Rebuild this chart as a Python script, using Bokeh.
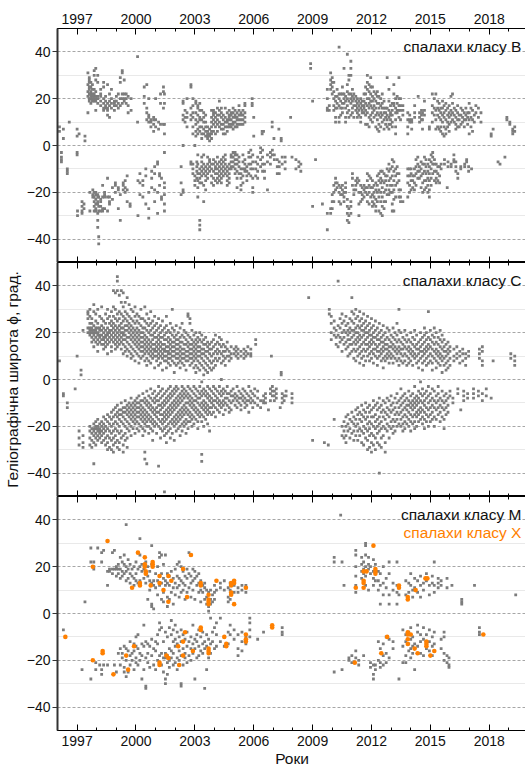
from bokeh.plotting import figure
from bokeh.layouts import column
from bokeh.models import Range1d, FixedTicker, LinearAxis, Label
from bokeh.embed import file_html
from bokeh.resources import INLINE

FONT = "Liberation Sans"
GRAY = "#7c7c7c"
ORANGE = "#ff8000"

YEAR_TICKS = [1997, 2000, 2003, 2006, 2009, 2012, 2015, 2018]
YEAR_MINOR = list(range(1996, 2020))
LAT_TICKS = [-40, -20, 0, 20, 40]
LAT_MINOR = [-30, -10, 10, 30]

LABEL_B = "спалахи класу B"
LABEL_C = "спалахи класу C"
LABEL_M = "спалахи класу M"
LABEL_X = "спалахи класу X"
Y_TITLE = "Геліографічна широта ϕ, град."
X_TITLE = "Роки"

# ---- class B flares: (year, [latitudes]) ----
B_NORTH = [
    (1996.1, [8, 6]), (1996.3, [7, 3]), (1996.6, [10]), (1997.0, [7, 4]), (1997.1, [5]), (1997.4, [4, 2]),
    (1997.55, [31, 26, 23, 21, 14]), (1997.62, [29, 28, 27, 25, 24, 22, 20, 19]),
    (1997.7, [27, 25, 23, 22, 21, 20, 18]), (1997.78, [26, 24, 22, 21, 20, 19]),
    (1997.87, [32, 30, 24, 22, 21, 20, 19]), (1997.95, [33, 28, 23, 21, 20, 19, 15]),
    (1998.05, [30, 27, 21, 20, 18]), (1998.2, [24, 22, 21, 19, 17]), (1998.35, [27, 25, 20, 18, 16, 15]),
    (1998.45, [21, 19, 17, 16]), (1998.55, [26, 18, 16, 15, 13]), (1998.65, [22, 19, 17, 12]),
    (1998.75, [24, 20, 18, 16]), (1998.9, [19, 18, 17, 15]), (1999.0, [21, 19, 17]), (1999.1, [22, 18, 16]),
    (1999.2, [29, 27, 20, 17]), (1999.3, [31, 32, 22, 20, 18]), (1999.4, [28, 22, 20, 19]),
    (1999.5, [22, 20, 18]), (1999.6, [21, 17, 14]), (1999.75, [20, 15]), (2000.08, [38, 10]),
    (2000.42, [25, 21, 18]), (2000.55, [26, 16, 14, 11]), (2000.65, [20, 13, 12, 10]),
    (2000.76, [11, 10, 8]), (2000.9, [12, 11, 9, 6]), (2001.0, [20, 11, 8]), (2001.15, [10, 7]),
    (2001.25, [22, 18, 9]), (2001.4, [25, 23, 16, 9]), (2001.45, [22, 18, 9, 5]),
    (2002.4, [18, 19, 13, 11]), (2002.5, [15, 12, 10]), (2002.6, [20, 14, 12, 8]),
    (2002.8, [26, 25, 16, 13, 11]), (2002.9, [20, 17, 14, 12, 8, 5]), (2003.05, [19, 18, 14, 11, 9, 6, 4]),
    (2003.15, [17, 16, 13, 10, 7, 5]), (2003.25, [18, 15, 12, 11, 8, 6]), (2003.35, [15, 11, 8, 5, 3]),
    (2003.45, [14, 12, 10, 7, 5]), (2003.55, [13, 10, 8, 6, 4]), (2003.65, [8, 6, 5, 4, 3]),
    (2003.75, [7, 5, 4, 2]), (2003.85, [15, 12, 10, 8, 6, 5, 3]), (2003.95, [15, 14, 13, 11, 9, 6]),
    (2004.05, [14, 12, 10, 8, 5]), (2004.15, [16, 13, 11, 9, 6]), (2004.25, [19, 15, 13, 10, 8]),
    (2004.35, [16, 14, 12, 9, 7]), (2004.45, [13, 11, 9, 7, 5]), (2004.55, [16, 12, 10, 8, 5]),
    (2004.65, [14, 11, 10, 8, 6]), (2004.75, [15, 13, 12, 11, 9, 8]), (2004.85, [14, 13, 11, 9, 8]),
    (2004.95, [16, 14, 12, 10, 9, 7]), (2005.05, [15, 13, 12, 10, 8]), (2005.15, [14, 12, 11, 9, 8]),
    (2005.25, [17, 15, 13, 11, 9]), (2005.35, [14, 13, 11, 9]), (2005.45, [15, 13, 11, 9]),
    (2005.55, [18, 17, 14, 12, 10]), (2005.92, [20, 18, 17]), (2006.0, [12, 4]), (2006.43, [6, 5]),
    (2006.5, [6]), (2006.94, [10, 8]), (2007.03, [3]), (2007.28, [7]), (2007.4, [3, 2]), (2007.88, [12]),
    (2008.9, [35, 33]), (2009.0, [19]),
    (2009.75, [24, 20, 16, 15]), (2009.85, [17, 15]), (2009.92, [31, 28, 26, 24]), (2010.0, [29, 27, 25, 22]),
    (2010.08, [27, 23, 20, 17, 15]), (2010.17, [21, 19, 16, 12, 10]), (2010.25, [24, 21, 18, 16]),
    (2010.35, [42, 22, 20, 17, 12, 10]), (2010.43, [22, 19, 16, 13]), (2010.52, [25, 22, 18, 16, 14]),
    (2010.6, [33, 22, 20, 18]), (2010.68, [21, 19, 16, 12, 10]), (2010.77, [39, 26, 23, 20, 17, 14]),
    (2010.85, [30, 28, 22, 19, 15, 12]), (2010.95, [36, 33, 30, 22, 20, 18, 13]),
    (2011.03, [24, 21, 19, 16, 14]), (2011.1, [22, 20, 17, 12]), (2011.2, [21, 19, 17, 15]),
    (2011.28, [20, 18, 16, 14, 12]), (2011.36, [19, 17, 15, 13]), (2011.45, [20, 18, 16, 12, 10]),
    (2011.53, [19, 17, 15, 14]), (2011.62, [22, 19, 17, 16, 14]), (2011.7, [25, 22, 18, 15, 13, 9]),
    (2011.79, [30, 27, 24, 20, 17, 14, 9]), (2011.88, [26, 23, 20, 18, 16, 12, 8]),
    (2011.96, [29, 25, 22, 19, 17, 13, 11]), (2012.05, [25, 21, 19, 16, 14, 10]),
    (2012.13, [23, 20, 17, 15, 12]), (2012.22, [22, 19, 16, 13, 8]), (2012.3, [23, 21, 18, 14, 11, 7]),
    (2012.38, [21, 18, 16, 13, 9, 6]), (2012.47, [20, 17, 14, 12, 8]), (2012.55, [22, 18, 16, 13, 10]),
    (2012.64, [19, 16, 14, 11, 7]), (2012.72, [16, 14, 12, 9]), (2012.8, [29, 16, 13, 11, 8]),
    (2012.89, [24, 19, 15, 12, 9, 7]), (2012.97, [17, 14, 13, 11, 9]), (2013.06, [18, 15, 13, 10, 8]),
    (2013.14, [26, 22, 18, 17]), (2013.23, [20, 16, 14, 11, 8, 5]), (2013.31, [21, 18, 15, 14]),
    (2013.4, [29, 20, 17, 15, 12]), (2013.48, [20, 17, 15, 11]), (2013.6, [17, 15, 13]),
    (2013.85, [14, 11, 8, 5]), (2013.95, [13, 11, 10]), (2014.05, [11, 10, 7]), (2014.2, [17, 14, 12]),
    (2014.38, [21]), (2014.45, [14, 12, 10]), (2014.55, [15, 13, 11]), (2014.6, [14, 11, 7]),
    (2014.7, [19, 15, 13]), (2014.95, [8, 7]), (2015.1, [22, 17, 14, 10]), (2015.2, [20, 16, 13]),
    (2015.28, [22, 15, 11, 7]), (2015.37, [19, 16, 13, 8]), (2015.45, [18, 15, 12, 7]),
    (2015.53, [16, 14, 11, 8, 6]), (2015.62, [19, 16, 13, 10, 5]), (2015.7, [17, 14, 12, 8, 4]),
    (2015.79, [18, 15, 11, 7, 5]), (2015.88, [16, 13, 10, 8]), (2015.96, [17, 14, 12, 9, 6]),
    (2016.05, [21, 15, 13, 10]), (2016.13, [22, 18, 14, 11]), (2016.22, [16, 13, 10]),
    (2016.3, [15, 12, 9, 7]), (2016.39, [17, 14, 11, 8]), (2016.47, [13, 11, 8]), (2016.56, [16, 13, 9]),
    (2016.64, [15, 12, 10]), (2016.73, [14, 11, 8]), (2016.81, [16, 13, 11]), (2016.9, [14, 12, 9]),
    (2016.98, [18, 14, 11, 5]), (2017.07, [16, 12, 8]), (2017.15, [15, 11, 6]), (2017.24, [13, 10]),
    (2017.32, [17, 14]), (2017.45, [16, 12]), (2017.58, [14, 10]), (2018.1, [5, 4]), (2018.2, [7]),
    (2018.9, [12, 11]), (2019.05, [10, 9]), (2019.2, [7, 6, 5]), (2019.3, [8, 6]),
]
B_SOUTH = [
    (1996.2, [-3, -5, -6, -7]), (1996.5, [-10, -11, -12]), (1997.0, [-3, -4]), (1997.02, [-28, -30]),
    (1997.25, [-24, -26, -28, -29]), (1997.35, [-25, -27]), (1997.65, [-28, -20]), (1997.8, [-19, -21, -22]),
    (1997.87, [-20, -22, -24, -26, -28]), (1997.95, [-20, -21, -23, -25, -27, -28]),
    (1998.05, [-21, -22, -24, -25, -29, -32, -35]), (1998.1, [-22, -26, -28, -39, -42]),
    (1998.2, [-23, -24, -26, -28]), (1998.3, [-17, -22, -27, -28]), (1998.4, [-20, -21, -22, -27]),
    (1998.55, [-14, -22, -28]), (1998.65, [-22, -24, -25]), (1998.8, [-18, -23]), (1998.95, [-16, -17, -20]),
    (1999.1, [-18, -19, -27]), (1999.2, [-21, -32]), (1999.35, [-17, -19, -16]), (1999.45, [-15, -18, -20]),
    (1999.55, [-13, -19, -24]), (1999.7, [-26, -25]), (2000.1, [-15, -30]), (2000.2, [-12, -21, -16]),
    (2000.35, [-15, -17, -22]), (2000.5, [-10, -13, -25]), (2000.65, [-20, -31, -27]), (2000.8, [-11, -14, -18]),
    (2000.95, [-9, -12, -19, -24]), (2001.1, [-7, -8, -20, -29]), (2001.2, [-12, -13, -17]),
    (2001.3, [-14, -22, -23]), (2001.45, [-3, -16, -18, -21, -25, -28]),
    (2002.3, [-9, -16, -21]), (2002.4, [-19, -20, 0]), (2002.8, [-7, -8]), (2002.9, [-8, -10, -12]),
    (2003.0, [0, -13, -15, -17]), (2003.1, [-7, -9, -11, -14]), (2003.15, [-4, -8, -12, -15, -18, -22]),
    (2003.25, [-10, -12, -14, -16, -32, -34, -36]), (2003.35, [-5, -7, -9, -11, -13, -16]),
    (2003.45, [-4, -8, -10, -12, -17, -24]), (2003.55, [-9, -11, -13, -15, -19]),
    (2003.65, [-5, -8, -10, -12, -14]), (2003.75, [-6, -7, -9, -11]), (2003.85, [-8, -10, -13, -16]),
    (2003.95, [-6, -8, -11, -14, -17]), (2004.05, [-7, -9, -10, -12, -15]),
    (2004.15, [-5, -8, -10, -12, -14, -16]), (2004.25, [-7, -9, -11, -13, -15]),
    (2004.35, [-6, -8, -10, -12, -14, -16]), (2004.45, [-5, -7, -9, -11, -13]),
    (2004.55, [-4, -6, -8, -10, -12]), (2004.65, [-9, -11, -13, -15, -17]),
    (2004.75, [-8, -10, -12, -14, -16]), (2004.85, [-4, -5, -7, -9, -10]), (2004.95, [-3, -5, -7, -9]),
    (2005.05, [-3, -4, -6, -8, -10, -12]), (2005.15, [-4, -6, -8, -11, -14, -18]),
    (2005.25, [-5, -7, -9, -12]), (2005.35, [-10, -12, -14, -17, -19]), (2005.45, [-4, -7, -10, -13, -16]),
    (2005.55, [-6, -8, -10, -11]), (2005.65, [-9, -11, -13, -15]), (2005.75, [-3, -5, -8, -12]),
    (2005.85, [-2, -5, -8, -10, -13]), (2005.95, [-4, -7, -10, -14, -18, -20]), (2006.1, [-7, -10, -13]),
    (2006.2, [-5, -8, -11, -14]), (2006.35, [-1, -3, -6, -9]), (2006.45, [-2, -5, -8, -11]),
    (2006.55, [-8, -11, -14]), (2006.7, [-19, -4, -7]), (2006.85, [-3, -5, -8]), (2006.95, [-2, -4]),
    (2007.05, [-4, -6]), (2007.2, [-6, -9, -12]), (2007.3, [-7, -9, -12]), (2007.45, [-5, -8]),
    (2007.6, [-5, -7, -10]), (2007.95, [-5]), (2008.15, [-6, -10]), (2008.3, [-7, -9]), (2008.4, [-8, -11]),
    (2009.0, [-26]), (2009.15, [-6]),
    (2009.5, [-25]), (2009.75, [-29, -36]), (2009.92, [-27, -29]), (2010.0, [-21, -24, -27]),
    (2010.08, [-17, -20, -24]), (2010.17, [-14, -16, -19]), (2010.25, [-16, -18]), (2010.35, [-17, -20, -24]),
    (2010.43, [-18, -21, -25]), (2010.52, [-17, -19, -21]), (2010.6, [-20, -22, -24]), (2010.68, [-16, -18, -20]),
    (2010.77, [-23, -26, -29, -32]), (2010.85, [-27, -30, -33]), (2010.95, [-24, -26, -29]),
    (2011.03, [-12, -14, -17]), (2011.1, [-19, -21]), (2011.2, [-15, -17, -19]), (2011.28, [-14, -16]),
    (2011.36, [-15, -20, -25, -30]), (2011.45, [-17, -20, -24]), (2011.53, [-18, -21, -23]),
    (2011.62, [-17, -19, -22]), (2011.7, [-18, -20]), (2011.79, [-12, -15, -18, -21, -24]),
    (2011.88, [-13, -17, -20, -25]), (2011.96, [-14, -18, -22]), (2012.05, [-15, -18, -21, -24, -26]),
    (2012.13, [-17, -20, -22, -25]), (2012.22, [-16, -19, -23, -26, -28]), (2012.3, [-13, -17, -20, -24]),
    (2012.38, [-12, -15, -19, -22, -28]), (2012.47, [-11, -14, -16, -20, -24, -29]),
    (2012.55, [-11, -15, -18, -22, -26, -30]), (2012.64, [-12, -16, -20, -24, -27]),
    (2012.72, [-13, -15, -19, -24]), (2012.8, [-10, -13, -17, -21]), (2012.89, [-8, -11, -15, -19, -21]),
    (2012.97, [-10, -14, -17, -20]), (2013.06, [-6, -9, -13, -17, -20, -25, -28]),
    (2013.14, [-7, -11, -15, -19, -23, -28]), (2013.23, [-10, -13, -17, -22]), (2013.31, [-9, -12, -16]),
    (2013.4, [-12, -15, -19, -22]), (2013.48, [-19, -22, -24]), (2013.6, [-24]),
    (2013.85, [-10, -13, -16, -22]), (2013.94, [-10, -13, -17, -20]), (2014.02, [-10, -12, -15, -19]),
    (2014.1, [-13, -15, -18]), (2014.19, [-10, -13, -16, -19]), (2014.27, [-6, -9, -12, -17]),
    (2014.36, [-5, -8, -11, -14]), (2014.44, [-9, -11, -14]), (2014.53, [-7, -10, -13, -18]),
    (2014.61, [-8, -12, -16, -20]), (2014.7, [-5, -8, -11, -15, -19]), (2014.78, [-6, -9, -12, -15, -18]),
    (2014.87, [-8, -11, -14, -17, -20]), (2014.95, [-6, -9, -12, -15, -19, -22]),
    (2015.04, [-4, -7, -10, -14, -17]), (2015.12, [-3, -5, -8, -12]), (2015.21, [-6, -8, -11, -15]),
    (2015.3, [-8, -11, -14, -16]), (2015.38, [-9, -12, -15]), (2015.47, [-9, -13, -16]), (2015.55, [-8, -10]),
    (2015.72, [-6, -8]), (2015.86, [-18]), (2015.9, [-7, -9]), (2016.06, [-8, -9]), (2016.2, [-4, -6, -7]),
    (2016.3, [-7, -9, -11]), (2016.4, [-12, -14]), (2016.55, [-9, -10]), (2016.75, [-8, -9]),
    (2016.85, [-6, -7]), (2016.95, [-9, -11]), (2017.1, [-10]), (2018.45, [-7]), (2018.55, [-8]), (2018.8, [-5]),
]

# ---- class C flares ----
C_NORTH = [
    (1996.1, [8]), (1997.0, [10]), (1997.2, [4, 2]), (1997.3, [21]),
    (1997.55, [29, 28, 26, 22, 20]), (1997.65, [30, 27, 24, 22, 21, 20, 19]),
    (1997.75, [26, 24, 22, 21, 20, 18, 16]), (1997.85, [32, 29, 23, 21, 20, 19, 17, 14]),
    (1997.95, [28, 25, 22, 21, 20, 18, 16]), (1998.05, [30, 24, 22, 20, 19, 17, 15, 12]),
    (1998.15, [27, 22, 21, 19, 18, 16]), (1998.25, [31, 26, 23, 21, 19, 17, 15]),
    (1998.35, [25, 22, 20, 18, 17, 15, 13]), (1998.45, [28, 24, 21, 19, 18, 16, 14]),
    (1998.55, [30, 26, 22, 20, 19, 17, 15, 11]), (1998.65, [27, 24, 21, 20, 18, 16]),
    (1998.75, [29, 25, 23, 21, 19, 17, 14, 12]), (1998.85, [38, 31, 27, 24, 22, 20, 18, 16]),
    (1998.95, [37, 30, 26, 23, 21, 19, 17, 15, 13]), (1999.05, [44, 42, 38, 28, 25, 22, 20, 18, 16, 14]),
    (1999.15, [36, 29, 26, 23, 21, 19, 17, 15]), (1999.25, [38, 33, 28, 24, 22, 20, 18, 16, 13]),
    (1999.35, [37, 31, 27, 25, 22, 20, 19, 17, 15, 11]), (1999.45, [33, 29, 26, 23, 21, 19, 17, 14, 12]),
    (1999.55, [35, 28, 25, 23, 21, 18, 16, 13, 10]), (1999.65, [32, 27, 24, 22, 20, 18, 15, 12]),
    (1999.75, [30, 26, 23, 21, 19, 17, 14, 11, 9]), (1999.85, [29, 25, 22, 20, 18, 16, 13, 10]),
    (1999.95, [31, 27, 24, 21, 19, 17, 15, 12, 8]), (2000.05, [28, 25, 22, 20, 18, 16, 14, 11]),
    (2000.15, [27, 24, 21, 19, 17, 15, 13, 10, 7]), (2000.25, [30, 26, 23, 20, 18, 16, 14, 12, 9]),
    (2000.35, [26, 22, 20, 18, 16, 14, 12, 10]), (2000.45, [31, 25, 22, 19, 17, 15, 13, 11, 8]),
    (2000.55, [28, 24, 21, 18, 16, 14, 12, 9, 6]), (2000.65, [26, 23, 20, 17, 15, 13, 11, 8]),
    (2000.75, [29, 24, 21, 19, 16, 14, 12, 10, 7]), (2000.85, [25, 22, 19, 17, 15, 13, 11, 9]),
    (2000.95, [27, 23, 20, 18, 15, 13, 12, 10, 5]), (2001.05, [24, 21, 18, 16, 14, 12, 10, 8]),
    (2001.15, [26, 22, 19, 17, 15, 13, 11, 9, 6]), (2001.25, [23, 20, 18, 16, 14, 12, 10, 7]),
    (2001.35, [25, 21, 18, 15, 13, 11, 9, 4]), (2001.45, [22, 19, 17, 15, 13, 12, 10, 8]),
    (2001.55, [27, 23, 20, 17, 14, 12, 10, 8, 5]), (2001.65, [21, 18, 16, 14, 12, 11, 9, 7]),
    (2001.75, [24, 20, 17, 15, 13, 11, 9, 6]), (2001.85, [30, 22, 19, 16, 14, 12, 10, 8]),
    (2001.95, [21, 18, 16, 14, 12, 10, 7, 3]), (2002.05, [23, 19, 17, 15, 13, 11, 9, 6]),
    (2002.15, [20, 17, 15, 13, 11, 9, 7]), (2002.25, [22, 18, 16, 14, 12, 10, 8, 5]),
    (2002.35, [24, 19, 16, 13, 11, 9, 7]), (2002.45, [21, 18, 15, 13, 11, 9, 6]),
    (2002.55, [20, 17, 15, 12, 10, 8, 4]), (2002.65, [28, 27, 19, 16, 14, 12, 10, 8]),
    (2002.75, [26, 24, 18, 15, 13, 11, 9, 6]), (2002.85, [21, 17, 15, 13, 11, 9, 7]),
    (2002.95, [19, 16, 14, 12, 10, 8, 5]), (2003.05, [20, 17, 15, 13, 11, 9, 6, 3]),
    (2003.15, [18, 16, 14, 12, 10, 8, 5]), (2003.25, [20, 17, 14, 12, 10, 7, 4]),
    (2003.35, [19, 16, 13, 11, 9, 6]), (2003.45, [17, 15, 13, 11, 8, 5, 2]), (2003.55, [18, 15, 12, 10, 7, 4]),
    (2003.65, [16, 14, 12, 9, 6, 3]), (2003.75, [15, 13, 11, 8, 5]), (2003.85, [16, 13, 10, 7, 4]),
    (2003.95, [17, 14, 11, 8, 5]), (2004.05, [19, 15, 12, 9, 6]), (2004.15, [16, 13, 11, 8]),
    (2004.25, [18, 15, 12, 9]), (2004.35, [17, 14, 11, 7]), (2004.45, [15, 12, 10, 8]), (2004.55, [14, 12, 9, 6]),
    (2004.65, [16, 13, 10]), (2004.75, [12, 10, 8]), (2004.85, [14, 11, 9]), (2005.0, [13, 11]),
    (2005.1, [14, 12, 10]), (2005.2, [13, 11, 9]), (2005.35, [12, 10]), (2005.5, [13, 11, 9]),
    (2005.6, [12, 10]), (2005.7, [14, 11]), (2005.85, [13, 11, 10]), (2006.1, [15, 17]), (2006.9, [10]),
    (2007.4, [2, 3]), (2008.8, [35]),
    (2009.85, [30, 28]), (2009.95, [27, 24, 20, 17]), (2010.1, [25, 22, 19]), (2010.2, [21, 18, 15]),
    (2010.3, [42, 23, 19, 14]), (2010.4, [26, 22, 18, 16]), (2010.5, [28, 24, 20, 17, 12]),
    (2010.6, [25, 21, 18, 15]), (2010.7, [27, 23, 20, 16, 13]), (2010.8, [24, 21, 19, 17, 14, 10]),
    (2010.9, [26, 22, 20, 17, 15, 11]), (2011.0, [35, 29, 25, 21, 18, 15, 12]),
    (2011.1, [28, 24, 21, 19, 16, 13, 9]), (2011.2, [30, 26, 22, 20, 17, 15, 12, 8]),
    (2011.3, [27, 23, 20, 18, 16, 13, 10]), (2011.4, [29, 25, 22, 19, 17, 14, 11, 7]),
    (2011.5, [26, 23, 21, 18, 15, 12, 9]), (2011.6, [28, 24, 21, 19, 16, 13, 10, 6]),
    (2011.7, [25, 22, 20, 17, 15, 12, 8]), (2011.8, [27, 23, 20, 18, 15, 13, 10]),
    (2011.9, [24, 21, 19, 16, 14, 11, 8]), (2012.0, [26, 22, 19, 17, 15, 12, 9]),
    (2012.1, [23, 20, 18, 16, 13, 11, 7]), (2012.2, [25, 21, 18, 15, 13, 10]),
    (2012.3, [22, 19, 17, 14, 12, 9, 6]), (2012.4, [24, 20, 17, 15, 12, 10]), (2012.5, [21, 18, 16, 13, 11, 8]),
    (2012.6, [23, 19, 16, 14, 12, 9, 5]), (2012.7, [20, 17, 15, 13, 10, 8]), (2012.8, [22, 18, 15, 13, 11, 9]),
    (2012.9, [21, 17, 14, 12, 10, 7]), (2013.0, [19, 16, 14, 11, 9]), (2013.1, [22, 18, 15, 13, 10, 7]),
    (2013.2, [20, 17, 14, 12, 9]), (2013.3, [24, 19, 16, 13, 11, 8]), (2013.4, [30, 21, 17, 14, 12, 9, 6]),
    (2013.5, [20, 16, 13, 11, 8]), (2013.6, [18, 15, 13, 10, 7]), (2013.7, [21, 17, 14, 11, 8]),
    (2013.8, [19, 16, 13, 10, 6]), (2013.9, [17, 14, 12, 9, 7]), (2014.0, [20, 16, 13, 11, 8]),
    (2014.1, [18, 15, 12, 10, 6]), (2014.2, [21, 17, 14, 11, 9]), (2014.3, [19, 15, 13, 10, 7]),
    (2014.4, [16, 13, 11, 8, 5]), (2014.5, [20, 17, 14, 12, 9]), (2014.6, [18, 15, 12, 10, 7, 4]),
    (2014.7, [22, 19, 16, 13, 11, 8]), (2014.8, [20, 17, 14, 12, 9, 6]), (2014.9, [29, 18, 15, 13, 10, 7]),
    (2015.0, [21, 17, 14, 11, 8]), (2015.1, [19, 16, 13, 10, 7, 4]), (2015.2, [22, 18, 15, 12, 9]),
    (2015.3, [20, 16, 13, 11, 8, 5]), (2015.4, [18, 15, 12, 10, 7]), (2015.5, [21, 17, 14, 11, 9, 6]),
    (2015.6, [19, 16, 13, 10, 8, 3]), (2015.7, [17, 14, 12, 9, 6]), (2015.8, [15, 12, 10, 7, 4]),
    (2015.9, [16, 13, 11, 8, 5]), (2016.0, [14, 12, 9, 6]), (2016.2, [13, 10, 8]), (2016.35, [14, 11, 9]),
    (2016.5, [12, 10, 7]), (2016.65, [13, 11, 8]), (2016.8, [11, 9, 6]), (2016.95, [12, 10]),
    (2017.5, [13, 11, 9]), (2017.65, [14, 12, 8, 6]), (2018.2, [8]), (2019.1, [11, 9]), (2019.3, [10, 8, 6]),
]
C_SOUTH = [
    (1996.3, [-6, -7]), (1996.5, [-10, -12]), (1996.9, [-4]), (1997.1, [-22, -25, -28]), (1997.3, [-24, -27, -29]),
    (1997.65, [-20, -22, -25, -28]), (1997.75, [-21, -23, -26, -29]), (1997.85, [-19, -21, -22, -24, -27, -36]),
    (1997.95, [-18, -20, -21, -23, -25, -28]), (1998.05, [-17, -20, -21, -22, -24, -26]),
    (1998.15, [-19, -21, -22, -23, -25]), (1998.25, [-18, -20, -22, -24, -27]),
    (1998.35, [-16, -19, -21, -23, -26]), (1998.45, [-17, -20, -22, -25, -28]),
    (1998.55, [-15, -18, -21, -24, -27, -30]), (1998.65, [-16, -19, -22, -25, -29]),
    (1998.75, [-14, -17, -20, -23, -26, -30]), (1998.85, [-13, -16, -19, -22, -25, -28, -31]),
    (1998.95, [-12, -15, -18, -21, -24, -27]), (1999.05, [-11, -14, -16, -19, -22, -26, -29]),
    (1999.15, [-13, -15, -17, -20, -23, -27, -30]), (1999.25, [-10, -13, -15, -18, -22, -25]),
    (1999.35, [-12, -14, -16, -19, -24, -28, -31]), (1999.45, [-9, -12, -14, -17, -20, -23, -26]),
    (1999.55, [-11, -13, -15, -18, -21, -25, -29]), (1999.65, [-10, -12, -14, -16, -19, -22]),
    (1999.75, [-8, -11, -13, -15, -17, -20, -24]), (1999.85, [-10, -12, -14, -16, -18, -21]),
    (1999.95, [-9, -11, -13, -15, -17, -19, -23]), (2000.05, [-8, -10, -12, -14, -16, -18, -21]),
    (2000.15, [-7, -10, -12, -14, -16, -19, -22]), (2000.25, [-9, -11, -13, -15, -17, -20]),
    (2000.35, [-6, -9, -12, -14, -16, -18, -21, -24]), (2000.45, [-8, -10, -13, -15, -17, -19, -22, -31, -34]),
    (2000.55, [-5, -9, -11, -14, -16, -18, -20, -36]), (2000.65, [-7, -10, -12, -15, -17, -20, -23]),
    (2000.75, [-4, -8, -11, -13, -16, -18, -21]), (2000.85, [-6, -9, -12, -14, -17, -19, -22, -26]),
    (2000.95, [-5, -8, -10, -13, -15, -18, -20]), (2001.05, [-7, -9, -12, -14, -16, -19, -23]),
    (2001.15, [-3, -6, -9, -11, -14, -17, -20, -37]), (2001.25, [-5, -8, -11, -13, -15, -18, -21, -25]),
    (2001.35, [-4, -7, -10, -12, -15, -17, -19, -22]), (2001.45, [-6, -9, -11, -14, -16, -18, -21, -24, -48]),
    (2001.55, [-5, -8, -10, -13, -15, -17, -20, -23, -27]), (2001.65, [-4, -7, -9, -12, -14, -16, -19, -22]),
    (2001.75, [-3, -6, -8, -11, -13, -15, -18, -21, -25]), (2001.85, [-5, -7, -10, -12, -14, -17, -19, -23]),
    (2001.95, [-4, -6, -9, -11, -13, -16, -18, -20, -26]), (2002.05, [-3, -5, -8, -10, -12, -15, -17, -19, -22]),
    (2002.15, [-4, -7, -9, -11, -14, -16, -18, -21]), (2002.25, [-6, -8, -10, -13, -15, -17, -20, -24]),
    (2002.35, [-3, -5, -7, -9, -12, -14, -16, -19, -22]), (2002.45, [-4, -6, -8, -11, -13, -15, -18, -20]),
    (2002.55, [-5, -7, -10, -12, -14, -17, -19, -23]), (2002.65, [-3, -6, -8, -10, -13, -15, -18, -21]),
    (2002.75, [-4, -7, -9, -11, -14, -16, -18]), (2002.85, [-5, -8, -10, -12, -15, -17, -20]),
    (2002.95, [-3, -6, -9, -11, -13, -16, -19]), (2003.05, [-4, -7, -9, -12, -14, -17]),
    (2003.15, [-5, -8, -10, -13, -15, -18, -21]), (2003.25, [-3, -6, -8, -11, -14, -16]),
    (2003.35, [-1, -5, -7, -10, -12, -15, -18, -32, -35]), (2003.45, [-4, -6, -9, -11, -13, -16, -20]),
    (2003.55, [-5, -7, -10, -12, -14, -17]), (2003.65, [-3, -6, -8, -11, -13, -15, -19]),
    (2003.75, [-4, -7, -9, -12, -14, -22]), (2003.85, [-5, -8, -10, -12, -15]), (2003.95, [-3, -6, -9, -11, -14]),
    (2004.05, [-4, -7, -9, -12, -16]), (2004.15, [-5, -8, -10, -13]), (2004.25, [-3, -6, -9, -11, -14]),
    (2004.35, [0, -5, -7, -10, -12]), (2004.45, [-4, -6, -9, -11, -15]), (2004.55, [-5, -8, -10, -13]),
    (2004.65, [-3, -6, -8, -11]), (2004.75, [-6, -9, -12, -14]), (2004.85, [-5, -7, -10, -13]),
    (2004.95, [-4, -7, -9]), (2005.05, [-6, -8, -11]), (2005.15, [-3, -7, -9, -12]), (2005.25, [-5, -8, -10]),
    (2005.35, [-6, -8, -11, -13]), (2005.45, [-4, -7, -9]), (2005.55, [-5, -8, -10, -12]), (2005.65, [-6, -9, -11]),
    (2005.75, [-3, -7, -9, -14]), (2005.85, [-5, -8, -10]), (2005.95, [-6, -9, -12]), (2006.05, [-4, -7, -10]),
    (2006.2, [-5, -8, -11]), (2006.35, [-9, -12]), (2006.5, [-7, -9, -10]), (2006.6, [-6, -8, -10]),
    (2006.75, [-13]), (2006.85, [-4, -6, -9]), (2006.95, [-3, -5, -7]), (2007.05, [-5, -7, -9]),
    (2007.15, [-4, -6, -8]), (2007.35, [-12]), (2007.45, [-6, -8, -10]), (2007.55, [-7, -9]), (2007.65, [-5, -7]),
    (2007.95, [-6, -8, -10]), (2009.0, [-26]), (2009.6, [-27]), (2009.8, [-28]),
    (2010.1, [-17]), (2010.5, [-20, -24]), (2010.6, [-18, -22, -25]), (2010.7, [-16, -20, -24, -27]),
    (2010.8, [-15, -19, -22]), (2010.9, [-17, -21, -25]), (2011.0, [-14, -18, -23]), (2011.1, [-16, -19, -22, -26]),
    (2011.2, [-13, -17, -20, -24]), (2011.3, [-12, -15, -19, -22, -26]), (2011.4, [-14, -17, -21, -24]),
    (2011.5, [-11, -15, -18, -22, -27]), (2011.6, [-13, -16, -20, -23, -28]), (2011.7, [-10, -14, -17, -21, -25]),
    (2011.8, [-12, -16, -19, -22, -26, -30]), (2011.9, [-11, -14, -18, -21, -24, -29]),
    (2012.0, [-13, -16, -19, -23, -27, -31]), (2012.1, [-9, -12, -16, -20, -24, -28]),
    (2012.2, [-11, -15, -18, -21, -25, -30]), (2012.3, [-10, -13, -17, -20, -23, -27]),
    (2012.4, [-8, -12, -16, -19, -22, -28, -40]), (2012.5, [-11, -14, -18, -21, -25, -29]),
    (2012.6, [-9, -13, -16, -20, -24]), (2012.7, [-10, -14, -17, -21, -27, -31]), (2012.8, [-8, -12, -15, -19, -22]),
    (2012.9, [-9, -13, -16, -20, -25]), (2013.0, [-7, -11, -14, -18, -21]), (2013.1, [-10, -13, -17, -20, -23]),
    (2013.2, [-8, -12, -15, -18, -22]), (2013.3, [-6, -10, -14, -17, -20]), (2013.4, [-9, -12, -15, -19]),
    (2013.5, [-4, -8, -11, -14, -17, -20]), (2013.6, [-7, -10, -13, -16, -19, -22]),
    (2013.7, [-6, -9, -12, -15, -18, -21]), (2013.8, [-8, -11, -13, -16, -19]),
    (2013.9, [-5, -9, -11, -14, -17, -20]), (2014.0, [-7, -10, -12, -15, -18, -22]),
    (2014.1, [-6, -9, -11, -13, -16, -19]), (2014.2, [-3, -8, -10, -12, -15, -18, -21]),
    (2014.3, [-7, -9, -11, -14, -16, -20]), (2014.4, [-5, -8, -10, -13, -15, -18]),
    (2014.5, [-1, -6, -9, -12, -14, -17]), (2014.6, [-4, -7, -10, -13, -16, -19]),
    (2014.7, [-6, -9, -11, -14, -17, -21]), (2014.8, [-5, -8, -12, -15, -18]), (2014.9, [-3, -7, -10, -13, -16, -20]),
    (2015.0, [-6, -9, -12, -15, -18]), (2015.1, [-4, -8, -11, -14, -17]), (2015.2, [-5, -9, -12, -16, -20]),
    (2015.3, [-7, -10, -13, -17]), (2015.4, [-3, -6, -9, -12, -15]), (2015.5, [-8, -11, -14, -18]),
    (2015.6, [-5, -9, -12, -16]), (2015.7, [-7, -10, -13, -17, -21]), (2015.8, [-6, -9, -12, -15]),
    (2015.9, [-8, -11, -14]), (2016.0, [-5, -7]), (2016.15, [-8, -10]), (2016.4, [-4, -6]), (2016.55, [-13]),
    (2016.7, [-5, -7, -9]), (2016.9, [-6, -8]), (2017.2, [-4, -6, -8]), (2017.45, [-5, -7]), (2017.65, [-6, -9]),
    (2017.85, [-4, -7]), (2018.1, [-8]),
]

# ---- class M and X flares ----
M_FLARES = [
    (1996.3, [-7]), (1997.25, [-24]), (1997.4, [5]), (1997.7, [28, 22, -28]), (1997.85, [22, 20, 19]),
    (1997.95, [-21, -24]), (1998.05, [28]), (1998.15, [-22]), (1998.25, [26, 22, -24, -26]), (1998.35, [27, -22]),
    (1998.55, [18, 12, -22]), (1998.65, [19, 18]), (1998.8, [26, 19, 17]), (1998.9, [27, 19, -22]),
    (1999.0, [20, 19, 16, -25]), (1999.1, [21, 19, 17, -17]), (1999.2, [24, 19, 15, -15, -22]),
    (1999.3, [22, 18, 16, -17, -19]), (1999.4, [25, 21, 17, -14, -23, -25]), (1999.5, [38, 20, 18, 14, -15, -20, -27]),
    (1999.6, [23, 19, 15, -16, -25]), (1999.7, [21, 17, 13, -12, -18, -22]), (1999.8, [19, 16, -17, -20]),
    (1999.9, [20, 15, 12, -13, -16, -24]), (2000.0, [22, 17, 14, -10, -14, -19, -21]), (2000.1, [19, 13, -9, -15, -22]),
    (2000.2, [32, 25, 20, 14, -17, -20]), (2000.3, [21, 18, -13, -18, -28]), (2000.4, [19, 15, -5, -14, -24]),
    (2000.5, [22, 17, 13, -12, -19, -31, -32]), (2000.6, [20, 16, 6, -13, -17, -21]), (2000.7, [18, 14, 10, -14, -23]),
    (2000.8, [29, 21, 13, 4, 3, -11, -18]), (2000.9, [14, 12, 2, -15, -22]), (2001.0, [17, 11, -12, -16, -24]),
    (2001.1, [20, 14, 8, -9, -13, -20]), (2001.2, [26, 24, 16, 12, -4, -7, -18, -21]),
    (2001.3, [25, 17, 13, 6, -6, -17, -22]), (2001.4, [21, 15, 9, 5, -12, -19, -25]),
    (2001.5, [25, 14, 12, -8, -17, -19, -28, -30]), (2001.6, [17, 13, 7, 3, -10, -18, -21, -26]),
    (2001.7, [16, 12, 6, -6, -15, -20, -23]), (2001.8, [18, 14, 9, -3, -9, -16, -19]),
    (2001.9, [15, 11, 4, -7, -12, -17, -22]), (2002.0, [19, 13, 8, -5, -11, -14, -21]),
    (2002.1, [21, 16, 11, -8, -13, -19, -24]), (2002.2, [22, 15, 12, 7, -10, -16, -20]),
    (2002.3, [20, 14, 9, -7, -12, -18, -30, -31]), (2002.4, [18, 13, 10, -9, -15, -22]),
    (2002.5, [16, 12, 6, -11, -17, -19]), (2002.6, [19, 15, 9, -8, -14, -21]), (2002.7, [26, 17, 11, -12, -18]),
    (2002.8, [25, 16, 13, 7, -10, -15, -20]), (2002.9, [19, 14, 10, -5, -13, -17]), (2003.0, [18, 15, 6, -11, -15, -28]),
    (2003.1, [16, 12, -9, -12, -19]), (2003.2, [17, 13, 9, -7, -14, -18]), (2003.3, [14, 10, 5, -10, -16]),
    (2003.4, [12, 9, -8, -13, -17]), (2003.5, [13, 11, 6, -12, -15, -32]), (2003.6, [10, 7, 4, -9, -14, -24]),
    (2003.7, [9, 5, 3, 1, -11, -19]), (2003.8, [10, 6, 4, -2, -13, -17]), (2003.9, [8, 5, -8, -12]),
    (2004.0, [12, 9, 6, -6, -15]), (2004.1, [14, 10, -4, -9, -14]), (2004.3, [13, 11, -2, -12]),
    (2004.5, [14, 10, -10, -14]), (2004.7, [11, 7, 5, -8, -13]), (2004.8, [13, 10, 6, -5, -9]),
    (2005.0, [12, 9, -7, -11]), (2005.2, [11, 9, -9, -15, -18]), (2005.4, [12, 10, -8, -12, -16]),
    (2005.6, [12, 11, 9, -10, -13]), (2005.8, [-2, -4, -7, -10]), (2006.2, [-11]), (2006.5, [-8]),
    (2007.45, [-6, -8, -9]), (2010.1, [24, 22, -25]), (2010.43, [42]), (2010.5, [22, -24]), (2010.6, [12]),
    (2010.85, [-19, -20]), (2011.0, [-18, -21]), (2011.2, [27, 25, 20, 16, 12, 9, -16, -19]), (2011.35, [-20, -22]),
    (2011.5, [24, 21, 18, 15]), (2011.6, [22, 19, 17, 13, -18]), (2011.7, [30, 29, 25, 20, 16, 12]),
    (2011.85, [24, 21, 19, 10]), (2011.95, [20, 17, -21, -23]), (2012.1, [23, 18, 15, 12, -22, -26, -28]),
    (2012.2, [21, 19, 14, -22, -24]), (2012.35, [18, 14, 10, -12, -20]), (2012.45, [17, 12, 4, -15, -21, -23]),
    (2012.6, [20, 13, 8, -13, -18, -22]), (2012.75, [15, 11, -10, -17, -21]), (2012.9, [22, 17, 8, 4, -11, -19]),
    (2013.1, [13, 10, -12, -15]), (2013.3, [22, 12, 9, 4]), (2013.4, [11, 8, -28]), (2013.6, [-7, -14, -21]),
    (2013.75, [14, 8, -9, -12, -18, -21]), (2013.9, [13, 9, -8, -13, -16]), (2014.0, [17, 12, -6, -11, -15, -19]),
    (2014.1, [10, 7, -10, -14, -17]), (2014.2, [15, 11, -13, -24]), (2014.35, [14, 9, -5, -8, -14]),
    (2014.5, [16, 12, 7, -9, -12, -17]), (2014.65, [13, 10, -6, -11, -18]), (2014.8, [17, 14, -9, -15]),
    (2014.95, [12, 8, -7, -12, -16]), (2015.1, [16, 13, -10, -14, -18]), (2015.2, [22, 12, 9, -8, -13]),
    (2015.4, [15, 13, 11]), (2015.55, [14, 12, -11, -15]), (2015.7, [-8, -10, -17, -20]), (2015.85, [15, 11, -18, -21]),
    (2015.95, [-19, -22, -23]), (2016.1, [12]), (2016.6, [6, 5, 4]), (2017.25, [12]), (2017.5, [-6, -8, -9]),
    (2019.35, [8]),
]
X_FLARES = [
    (1996.4, [-10]), (1997.8, [20, -20]), (1998.3, [-17, -16]), (1998.55, [31]), (1998.85, [-26]), (1999.5, [-18]),
    (1999.6, [-24]), (1999.8, [11]), (1999.9, [-14]), (2000.1, [26]), (2000.2, [13, 12]), (2000.45, [24, 21, 20]),
    (2000.5, [18, 17]), (2000.75, [12]), (2000.85, [22, 21, 20]), (2001.2, [16, 13, -21, -22]), (2001.4, [10]),
    (2001.55, [-18]), (2001.65, [16, 5, -19]), (2001.8, [14]), (2002.15, [-14]), (2002.2, [-22]),
    (2002.4, [19, -18, -12]), (2002.5, [-8]), (2002.6, [7]), (2002.8, [25]), (2002.9, [-16]),
    (2003.3, [13, 12, -6, -7]), (2003.7, [8, 6, 5, 4, -15, -16, -17]), (2004.1, [14]), (2004.5, [-10]),
    (2004.6, [-13, -14]), (2004.85, [13, 12, 9, 8]), (2005.0, [14, 13, 4]), (2005.6, [11, -9, -11, -12]),
    (2006.94, [-5, -6]), (2011.15, [-21]), (2011.2, [11]), (2011.6, [18, 14, 13, 11]), (2011.75, [18]),
    (2012.1, [29]), (2012.2, [19, 18, 17]), (2012.5, [-17]), (2012.8, [-10]), (2013.4, [12, 11]),
    (2013.85, [7, 6, -8, -9, -11, -13]), (2014.0, [-9]), (2014.2, [-15]), (2014.25, [10]), (2014.35, [-17]),
    (2014.75, [15]), (2014.8, [-12, -13, -14]), (2014.85, [15]), (2015.0, [-18]), (2015.2, [-16]), (2017.7, [-9]),
]


def flatten(*groups):
    xs, ys = [], []
    for cols in groups:
        for t, lats in cols:
            for v in lats:
                xs.append(t)
                ys.append(v)
    return xs, ys


x_range = Range1d(1996.0, 2019.9)


def x_axis(labels):
    ax = LinearAxis(ticker=FixedTicker(ticks=YEAR_TICKS, minor_ticks=YEAR_MINOR))
    ax.major_tick_in = 6
    ax.major_tick_out = 0
    ax.minor_tick_in = 3
    ax.minor_tick_out = 0
    ax.axis_line_color = "black"
    ax.major_tick_line_color = "black"
    ax.minor_tick_line_color = "black"
    if labels:
        ax.major_label_text_font = FONT
        ax.major_label_text_font_size = "14px"
        ax.major_label_text_color = "#111111"
        ax.major_label_standoff = 5
    else:
        ax.major_label_text_font_size = "0px"
        ax.major_label_standoff = 0
        ax.major_label_overrides = {t: "" for t in YEAR_TICKS}
    return ax


def make_panel(top=False, bottom=False, ylabel=None):
    p = figure(frame_width=469, frame_height=234, x_range=x_range, y_range=Range1d(-50, 50),
               output_backend="svg", toolbar_location=None, x_axis_location=None,
               min_border=0, min_border_left=55, min_border_right=1,
               min_border_top=28 if top else 0, min_border_bottom=36 if bottom else 0)
    p.background_fill_color = "white"
    p.border_fill_color = "white"
    p.outline_line_color = "black"
    p.outline_line_width = 1
    ya = p.yaxis[0]
    ya.ticker = FixedTicker(ticks=LAT_TICKS, minor_ticks=LAT_MINOR)
    ya.major_tick_out = 5
    ya.major_tick_in = 0
    ya.minor_tick_line_color = None
    ya.axis_line_width = 2
    ya.axis_line_color = "#333333"
    ya.major_tick_line_color = "#333333"
    ya.major_label_text_font = FONT
    ya.major_label_text_font_size = "14px"
    ya.major_label_text_color = "#111111"
    ya.major_label_standoff = 2
    if ylabel:
        ya.axis_label = ylabel
        ya.axis_label_text_font = FONT
        ya.axis_label_text_font_size = "15.5px"
        ya.axis_label_text_font_style = "normal"
        ya.axis_label_text_color = "#111111"
        ya.axis_label_standoff = 3
    p.xgrid.grid_line_color = None
    p.ygrid.ticker = FixedTicker(ticks=LAT_TICKS, minor_ticks=LAT_MINOR)
    p.ygrid.grid_line_color = "#a6a6a6"
    p.ygrid.grid_line_dash = "3 2"
    p.ygrid.minor_grid_line_color = "#d2d2d2"
    p.ygrid.minor_grid_line_dash = "1 1"

    ta = x_axis(top)
    p.add_layout(ta, "above")
    ba = x_axis(bottom)
    if bottom:
        ba.axis_label = X_TITLE
        ba.axis_label_text_font = FONT
        ba.axis_label_text_font_size = "15.5px"
        ba.axis_label_text_font_style = "normal"
        ba.axis_label_text_color = "#111111"
        ba.axis_label_standoff = 1
    p.add_layout(ba, "below")
    return p


def add_points(p, cols_list, color, size, marker="square"):
    xs, ys = flatten(*cols_list)
    p.scatter(xs, ys, marker=marker, size=size, fill_color=color, line_color=None)


def add_label(p, text, y, color="#111111"):
    p.add_layout(Label(x=2019.64, y=y, text=text, text_align="right", text_baseline="middle",
                       text_font=FONT, text_font_size="15.5px", text_color=color))


p1 = make_panel(top=True)
add_points(p1, [B_NORTH, B_SOUTH], GRAY, 2.8)
add_label(p1, LABEL_B, 42.5)

p2 = make_panel(ylabel=Y_TITLE)
add_points(p2, [C_NORTH, C_SOUTH], GRAY, 2.8)
add_label(p2, LABEL_C, 42.5)

p3 = make_panel(bottom=True)
add_points(p3, [M_FLARES], GRAY, 2.8)
add_points(p3, [X_FLARES], ORANGE, 4.6, marker="circle")
add_label(p3, LABEL_M, 42.5)
add_label(p3, LABEL_X, 34.5, ORANGE)

layout = column(p1, p2, p3, spacing=0)
open("out.html", "w").write(file_html(layout, INLINE))
